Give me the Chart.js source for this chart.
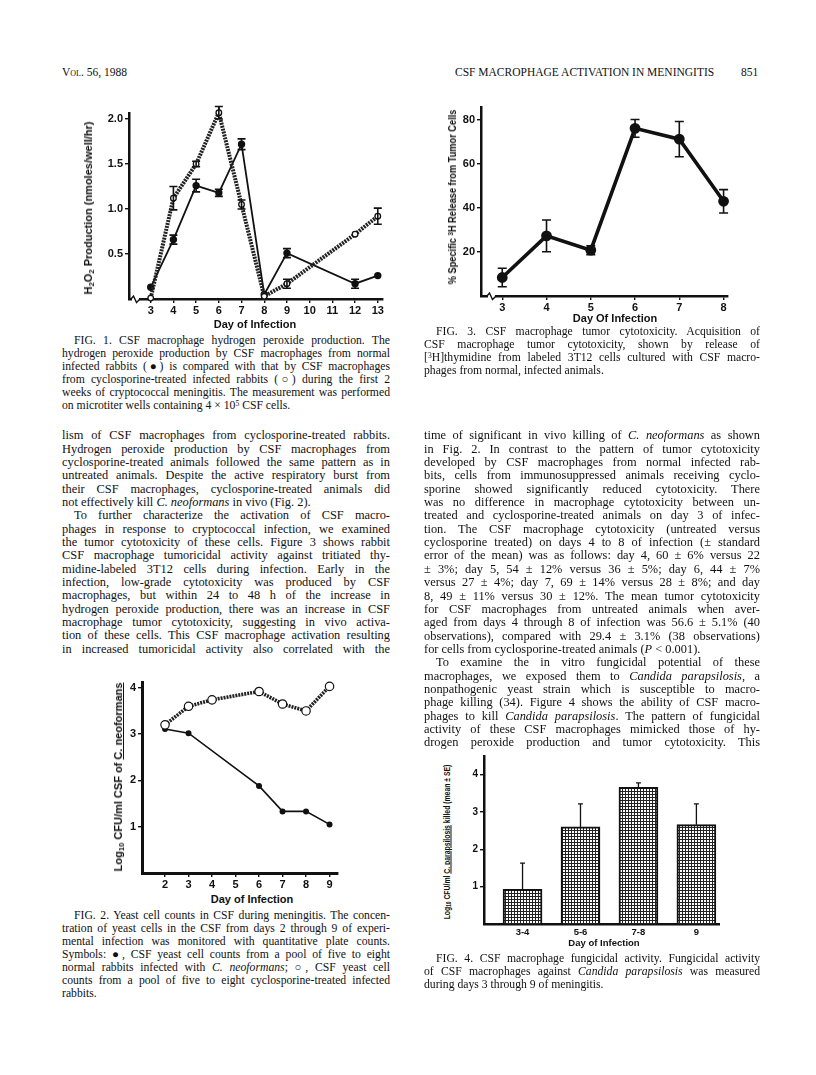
<!DOCTYPE html>
<html>
<head>
<meta charset="utf-8">
<script src="https://cdn.jsdelivr.net/npm/chart.js@4.4.0/dist/chart.umd.min.js"></script>
<style>
body { margin: 0; background: #fff; }
#page { position: relative; width: 816px; height: 1075px; overflow: hidden; font-family: "Liberation Serif", "Times New Roman", serif; color: #111; }
canvas { position: absolute; }
.col { position: absolute; font-size: 12.4px; }
.ln { height: 13.35px; line-height: 13.35px; text-align: justify; text-align-last: justify; }
.last { text-align-last: left; }
.ind { text-indent: 12px; }
.cap { font-size: 11.7px; }
.cap .ln { height: 13px; line-height: 13px; }
.ax { position: absolute; font-family: "Liberation Sans", Arial, sans-serif; font-weight: bold; font-size: 11px; white-space: nowrap; transform: translate(-50%, -50%); }
.rot { transform: translate(-50%, -50%) rotate(-90deg); }
sup { font-size: 0.65em; line-height: 0; vertical-align: 0.45em; }
sub { font-size: 0.7em; line-height: 0; vertical-align: -0.25em; }
.hdr { position: absolute; top: 66px; font-size: 11.5px; }
</style>
</head>
<body>
<div id="page">

<div class="hdr" style="left:62px;font-variant:small-caps">Vol. 56, 1988</div>
<div class="hdr" style="left:455px">CSF MACROPHAGE ACTIVATION IN MENINGITIS</div>
<div class="hdr" style="left:741px">851</div>

<canvas id="fig1"></canvas>
<canvas id="fig3"></canvas>
<canvas id="fig2"></canvas>
<canvas id="fig4"></canvas>

<!-- axis titles -->
<div class="ax rot" style="left:88px;top:208px">H<sub>2</sub>O<sub>2</sub> Production (nmoles/well/hr)</div>
<div class="ax" style="left:255px;top:324px">Day of Infection</div>
<div class="ax" style="left:452px;top:197px;transform:translate(-50%,-50%) rotate(-90deg) scaleX(0.84)">% Specific <sup>3</sup>H Release from Tumor Cells</div>
<div class="ax" style="left:615px;top:318px">Day Of Infection</div>
<div class="ax rot" style="left:118px;top:777px">Log<sub>10</sub> CFU/ml CSF of <u>C. neoformans</u></div>
<div class="ax" style="left:252px;top:899px">Day of Infection</div>
<div class="ax" style="left:446px;top:842px;font-size:9.5px;transform:translate(-50%,-50%) rotate(-90deg) scaleX(0.72)">Log<sub>10</sub> CFU/ml <u>C. parapsilosis</u> killed (mean ± SE)</div>
<div class="ax" style="left:604px;top:942px;font-size:9.5px">Day of Infection</div>

<!-- left column -->
<div class="col cap" style="left:62px;top:333.5px;width:328px">
<div class="ln ind">FIG. 1. CSF macrophage hydrogen peroxide production. The</div>
<div class="ln">hydrogen peroxide production by CSF macrophages from normal</div>
<div class="ln">infected rabbits (●) is compared with that by CSF macrophages</div>
<div class="ln">from cyclosporine-treated infected rabbits (○) during the first 2</div>
<div class="ln">weeks of cryptococcal meningitis. The measurement was performed</div>
<div class="ln last">on microtiter wells containing 4 × 10<sup>5</sup> CSF cells.</div>
</div>

<div class="col" style="left:62px;top:429.3px;width:328px">
<div class="ln">lism of CSF macrophages from cyclosporine-treated rabbits.</div>
<div class="ln">Hydrogen peroxide production by CSF macrophages from</div>
<div class="ln">cyclosporine-treated animals followed the same pattern as in</div>
<div class="ln">untreated animals. Despite the active respiratory burst from</div>
<div class="ln">their CSF macrophages, cyclosporine-treated animals did</div>
<div class="ln last">not effectively kill <i>C. neoformans</i> in vivo (Fig. 2).</div>
<div class="ln ind">To further characterize the activation of CSF macro-</div>
<div class="ln">phages in response to cryptococcal infection, we examined</div>
<div class="ln">the tumor cytotoxicity of these cells. Figure 3 shows rabbit</div>
<div class="ln">CSF macrophage tumoricidal activity against tritiated thy-</div>
<div class="ln">midine-labeled 3T12 cells during infection. Early in the</div>
<div class="ln">infection, low-grade cytotoxicity was produced by CSF</div>
<div class="ln">macrophages, but within 24 to 48 h of the increase in</div>
<div class="ln">hydrogen peroxide production, there was an increase in CSF</div>
<div class="ln">macrophage tumor cytotoxicity, suggesting in vivo activa-</div>
<div class="ln">tion of these cells. This CSF macrophage activation resulting</div>
<div class="ln">in increased tumoricidal activity also correlated with the</div>
</div>

<div class="col cap" style="left:62px;top:909px;width:328px">
<div class="ln ind">FIG. 2. Yeast cell counts in CSF during meningitis. The concen-</div>
<div class="ln">tration of yeast cells in the CSF from days 2 through 9 of experi-</div>
<div class="ln">mental infection was monitored with quantitative plate counts.</div>
<div class="ln">Symbols: ●, CSF yeast cell counts from a pool of five to eight</div>
<div class="ln">normal rabbits infected with <i>C. neoformans</i>; ○, CSF yeast cell</div>
<div class="ln">counts from a pool of five to eight cyclosporine-treated infected</div>
<div class="ln last">rabbits.</div>
</div>

<!-- right column -->
<div class="col cap" style="left:424px;top:324.5px;width:336px">
<div class="ln ind">FIG. 3. CSF macrophage tumor cytotoxicity. Acquisition of</div>
<div class="ln">CSF macrophage tumor cytotoxicity, shown by release of</div>
<div class="ln">[<sup>3</sup>H]thymidine from labeled 3T12 cells cultured with CSF macro-</div>
<div class="ln last">phages from normal, infected animals.</div>
</div>

<div class="col" style="left:424px;top:429.4px;width:336px">
<div class="ln">time of significant in vivo killing of <i>C. neoformans</i> as shown</div>
<div class="ln">in Fig. 2. In contrast to the pattern of tumor cytotoxicity</div>
<div class="ln">developed by CSF macrophages from normal infected rab-</div>
<div class="ln">bits, cells from immunosuppressed animals receiving cyclo-</div>
<div class="ln">sporine showed significantly reduced cytotoxicity. There</div>
<div class="ln">was no difference in macrophage cytotoxicity between un-</div>
<div class="ln">treated and cyclosporine-treated animals on day 3 of infec-</div>
<div class="ln">tion. The CSF macrophage cytotoxicity (untreated versus</div>
<div class="ln">cyclosporine treated) on days 4 to 8 of infection (± standard</div>
<div class="ln">error of the mean) was as follows: day 4, 60 ± 6% versus 22</div>
<div class="ln">± 3%; day 5, 54 ± 12% versus 36 ± 5%; day 6, 44 ± 7%</div>
<div class="ln">versus 27 ± 4%; day 7, 69 ± 14% versus 28 ± 8%; and day</div>
<div class="ln">8, 49 ± 11% versus 30 ± 12%. The mean tumor cytotoxicity</div>
<div class="ln">for CSF macrophages from untreated animals when aver-</div>
<div class="ln">aged from days 4 through 8 of infection was 56.6 ± 5.1% (40</div>
<div class="ln">observations), compared with 29.4 ± 3.1% (38 observations)</div>
<div class="ln last">for cells from cyclosporine-treated animals (<i>P</i> &lt; 0.001).</div>
<div class="ln ind">To examine the in vitro fungicidal potential of these</div>
<div class="ln">macrophages, we exposed them to <i>Candida parapsilosis</i>, a</div>
<div class="ln">nonpathogenic yeast strain which is susceptible to macro-</div>
<div class="ln">phage killing (34). Figure 4 shows the ability of CSF macro-</div>
<div class="ln">phages to kill <i>Candida parapsilosis</i>. The pattern of fungicidal</div>
<div class="ln">activity of these CSF macrophages mimicked those of hy-</div>
<div class="ln">drogen peroxide production and tumor cytotoxicity. This</div>
</div>

<div class="col cap" style="left:424px;top:951.5px;width:336px">
<div class="ln ind">FIG. 4. CSF macrophage fungicidal activity. Fungicidal activity</div>
<div class="ln">of CSF macrophages against <i>Candida parapsilosis</i> was measured</div>
<div class="ln last">during days 3 through 9 of meningitis.</div>
</div>

</div>

<script>
// Fig. 1 - H2O2 production (normal vs cyclosporine-treated)
const days1 = [3, 4, 5, 6, 7, 8, 9, 12, 13];
const h2o2Normal = [0.13, 0.66, 1.26, 1.18, 1.72, 0.05, 0.51, 0.17, 0.26];
const h2o2NormalSE = [0, 0.05, 0.07, 0.04, 0.06, 0, 0.05, 0.05, 0];
const h2o2Cyclo = [0.01, 1.12, 1.50, 2.07, 1.05, 0.03, 0.17, 0.72, 0.92];
const h2o2CycloSE = [0, 0.13, 0.03, 0.07, 0.05, 0, 0.05, 0, 0.09];
const xTicks1 = [3, 4, 5, 6, 7, 8, 9, 10, 11, 12, 13];
const yTicks1 = [0.5, 1.0, 1.5, 2.0];

// Fig. 2 - yeast counts (log10 CFU/ml)
const days2Normal = [2, 3, 6, 7, 8, 9];
const cfuNormal = [3.11, 3.02, 1.88, 1.33, 1.33, 1.05];
const days2Cyclo = [2, 3, 4, 6, 7, 8, 9];
const cfuCyclo = [3.2, 3.6, 3.74, 3.92, 3.65, 3.5, 4.03];
const xTicks2 = [2, 3, 4, 5, 6, 7, 8, 9];
const yTicks2 = [1, 2, 3, 4];

// Fig. 3 - tumor cytotoxicity
const days3 = [3, 4, 5, 6, 7, 8];
const release = [8.4, 27.3, 20.8, 76.1, 71.2, 43];
const releaseSE = [4.2, 7.2, 2, 4, 8, 5.3];
const yTicks3 = [20, 40, 60, 80];

// Fig. 4 - fungicidal activity
const dayGroups = ['3-4', '5-6', '7-8', '9'];
const killed = [0.93, 2.6, 3.66, 2.66];
const killedSE = [0.70, 0.62, 0.12, 0.56];
const yTicks4 = [1, 2, 3, 4];

Chart.defaults.font.family = '"Liberation Sans", Arial, sans-serif';
Chart.defaults.font.weight = 'bold';
Chart.defaults.font.size = 11;
Chart.defaults.color = '#111';
Chart.defaults.animation = false;
Chart.defaults.plugins.legend.display = false;
Chart.defaults.plugins.tooltip.enabled = false;

const INK = '#111';

// vertical error bars drawn from each dataset's errs array
const errorBars = {
    id: 'errorBars',
    afterDatasetsDraw(chart) {
        const ctx = chart.ctx;
        const yS = chart.scales.y;
        chart.data.datasets.forEach((ds, di) => {
            if (!ds.errs) return;
            const meta = chart.getDatasetMeta(di);
            ctx.save();
            ctx.strokeStyle = INK;
            ctx.lineWidth = ds.errWidth || 1.6;
            meta.data.forEach((el, i) => {
                const e = ds.errs[i];
                if (!e) return;
                const v = ds.data[i].y;
                const x = el.x;
                const top = yS.getPixelForValue(v + e);
                const bot = ds.upOnly ? el.y : yS.getPixelForValue(v - e);
                const c = ds.capW || 4;
                ctx.beginPath();
                ctx.moveTo(x, top); ctx.lineTo(x, bot);
                ctx.moveTo(x - c, top); ctx.lineTo(x + c, top);
                if (!ds.upOnly) { ctx.moveTo(x - c, bot); ctx.lineTo(x + c, bot); }
                ctx.stroke();
            });
            ctx.restore();
        });
    }
};

// little zigzag break on the x axis next to the y axis
function axisBreak(dx) {
    return {
        id: 'axisBreak',
        afterDraw(chart) {
            const { left, bottom } = chart.chartArea;
            const ctx = chart.ctx;
            const x0 = left + dx;
            ctx.save();
            ctx.fillStyle = '#fff';
            ctx.fillRect(x0, bottom - 2, 7, 4);
            ctx.strokeStyle = INK;
            ctx.lineWidth = 1.4;
            ctx.beginPath();
            ctx.moveTo(x0 - 1, bottom);
            ctx.lineTo(x0 + 1.5, bottom - 3);
            ctx.lineTo(x0 + 4.5, bottom + 3.5);
            ctx.lineTo(x0 + 8, bottom);
            ctx.stroke();
            ctx.restore();
        }
    };
}

function place(id, b) {
    const cv = document.getElementById(id);
    cv.width = b.yW + (b.R - b.L) + b.padR;
    cv.height = b.padT + (b.B - b.T) + b.xH;
    cv.style.left = (b.L - b.yW) + 'px';
    cv.style.top = (b.T - b.padT) + 'px';
    return cv;
}

function xAxis(b, min, max, ticks, opts = {}) {
    return {
        type: 'linear', min: min, max: max, offset: false,
        afterBuildTicks: s => { s.ticks = ticks.map(v => ({ value: v })); },
        afterFit: s => { s.height = b.xH; },
        border: { color: INK, width: b.axW },
        grid: opts.noTicks ? { display: false, drawTicks: false, tickLength: 0 } :
            { drawOnChartArea: false, color: INK, lineWidth: 1.4, tickLength: 4 },
        ticks: { color: INK, padding: opts.noTicks ? 3 : 1, maxRotation: 0, autoSkip: false,
                 font: { size: opts.size || 11 },
                 callback: opts.label || (v => v) }
    };
}

function yAxis(b, min, max, ticks, label, size) {
    return {
        type: 'linear', min: min, max: max,
        afterBuildTicks: s => { s.ticks = ticks.map(v => ({ value: v })); },
        afterFit: s => { s.width = b.yW; },
        border: { color: INK, width: b.axW },
        grid: { drawOnChartArea: false, color: INK, lineWidth: 1.4, tickLength: 4 },
        ticks: { color: INK, padding: 2, font: { size: size || 11 }, callback: label || (v => v) }
    };
}

function pts(xs, ys) { return xs.map((x, i) => ({ x: x, y: ys[i] })); }

function layoutPad(b) { return { top: b.padT, right: b.padR, left: 0, bottom: 0 }; }

// Fig. 1
const b1 = { L: 129, T: 113, R: 383, B: 299, yW: 40, xH: 20, padT: 10, padR: 14, axW: 2.5 };
new Chart(place('fig1', b1), {
    type: 'line',
    data: {
        datasets: [{
            data: pts(days1, h2o2Cyclo), errs: h2o2CycloSE, capW: 4,
            borderColor: '#222', borderWidth: 4, borderDash: [2, 1],
            pointRadius: 2.8, pointBackgroundColor: '#fff', pointBorderColor: INK, pointBorderWidth: 1.3,
            tension: 0, clip: false
        }, {
            data: pts(days1, h2o2Normal), errs: h2o2NormalSE, capW: 4,
            borderColor: INK, borderWidth: 1.8,
            pointRadius: 2.8, pointBackgroundColor: INK, pointBorderColor: INK,
            tension: 0, clip: false
        }]
    },
    options: {
        responsive: false, devicePixelRatio: 1,
        layout: { padding: layoutPad(b1) },
        scales: {
            x: xAxis(b1, 2.044, 13.23, xTicks1),
            y: yAxis(b1, 0, 2.067, yTicks1, v => v.toFixed(1))
        }
    },
    plugins: [errorBars, axisBreak(3)]
});

// Fig. 3
const b3 = { L: 481, T: 107, R: 728, B: 296, yW: 40, xH: 20, padT: 10, padR: 14, axW: 2.5 };
new Chart(place('fig3', b3), {
    type: 'line',
    data: {
        datasets: [{
            data: pts(days3, release), errs: releaseSE, capW: 4.5, errWidth: 1.6,
            borderColor: INK, borderWidth: 3.6,
            pointRadius: 3.6, pointBackgroundColor: INK, pointBorderColor: INK,
            tension: 0, clip: false
        }]
    },
    options: {
        responsive: false, devicePixelRatio: 1,
        layout: { padding: layoutPad(b3) },
        scales: {
            x: xAxis(b3, 2.52, 8.1, days3),
            y: yAxis(b3, 0, 85.8, yTicks3)
        }
    },
    plugins: [errorBars, axisBreak(7)]
});

// Fig. 2
const b2 = { L: 142, T: 682, R: 338, B: 873, yW: 30, xH: 20, padT: 10, padR: 14, axW: 3 };
new Chart(place('fig2', b2), {
    type: 'line',
    data: {
        datasets: [{
            data: pts(days2Cyclo, cfuCyclo),
            borderColor: '#222', borderWidth: 3.6, borderDash: [2, 1],
            pointRadius: 4.2, pointBackgroundColor: '#fff', pointBorderColor: INK, pointBorderWidth: 1.2,
            tension: 0, clip: false
        }, {
            data: pts(days2Normal, cfuNormal),
            borderColor: INK, borderWidth: 1.6,
            pointRadius: 2.2, pointBackgroundColor: INK, pointBorderColor: INK,
            tension: 0, clip: false
        }]
    },
    options: {
        responsive: false, devicePixelRatio: 1,
        layout: { padding: layoutPad(b2) },
        scales: {
            x: xAxis(b2, 1.02, 9.36, xTicks2),
            y: yAxis(b2, 0, 4.125, yTicks2)
        }
    },
    plugins: [errorBars]
});

// Fig. 4 - crosshatched bars
function hatch() {
    const p = document.createElement('canvas');
    p.width = 3; p.height = 3;
    const c = p.getContext('2d');
    c.fillStyle = '#fff'; c.fillRect(0, 0, 3, 3);
    c.fillStyle = '#222';
    c.fillRect(0, 0, 3, 1);
    c.fillRect(0, 0, 1, 3);
    return c.createPattern(p, 'repeat');
}
const b4 = { L: 484, T: 756, R: 719, B: 924, yW: 30, xH: 20, padT: 10, padR: 14, axW: 2.5 };
new Chart(place('fig4', b4), {
    type: 'bar',
    data: {
        datasets: [{
            data: pts(dayGroups.map((g, i) => i), killed), errs: killedSE, upOnly: true, capW: 2.5, errWidth: 1.3,
            backgroundColor: hatch(), borderColor: INK, borderWidth: 2, borderSkipped: 'bottom',
            barThickness: 39
        }]
    },
    options: {
        responsive: false, devicePixelRatio: 1,
        layout: { padding: layoutPad(b4) },
        scales: {
            x: xAxis(b4, -0.665, 3.39, dayGroups.map((g, i) => i), { noTicks: true, size: 9.5, label: v => dayGroups[v] }),
            y: yAxis(b4, 0, 4.5, yTicks4, null, 10)
        }
    },
    plugins: [errorBars]
});
</script>
</body>
</html>
